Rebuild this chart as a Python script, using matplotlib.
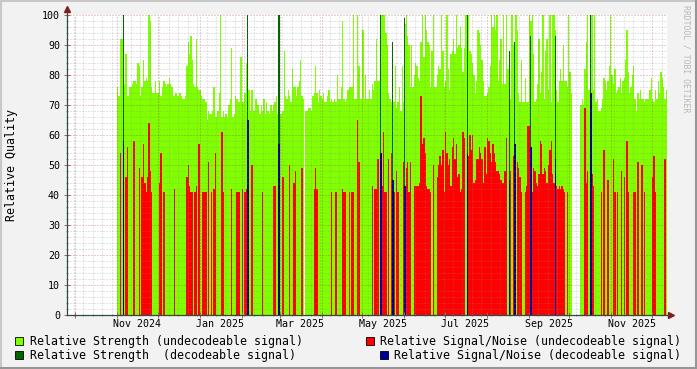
import numpy as np
import matplotlib
matplotlib.use('Agg')
import matplotlib.pyplot as plt
import matplotlib.dates as mdates
from matplotlib.patches import Rectangle
from matplotlib.lines import Line2D
from matplotlib.ticker import MultipleLocator, NullFormatter
from matplotlib.transforms import blended_transform_factory

W, H = 697, 369

first_day = '2024-11-01'
x_from = '2024-09-25'
x_to = '2025-12-12'

# one value per day from first_day, None = no data
green = [76, 73, 92, 92, 77, 77, 87, 73, 73, 76,
         76, 77, 78, 78, 77, 84, 83, 73, 76, 85,
         78, 79, 78, 100, 98, 76, 74, 74, 78, 74,
         74, 78, 73, 76, 78, 77, 76, 77, 79, 77,
         76, 73, 73, 74, 73, 73, 74, 73, 72, 72,
         73, 83, 91, 87, 93, 85, 77, 76, 92, 76,
         75, 75, 73, 72, 72, 71, 65, 68, 67, 67,
         68, 76, 66, 66, 68, 74, 100, 66, 68, 66,
         67, 66, 70, 72, 89, 66, 67, 73, 72, 71,
         71, 86, 71, 71, 74, 84, 89, 75, 68, 75,
         68, 68, 72, 70, 70, 67, 70, 68, 72, 67,
         71, 68, 67, 70, 68, 70, 71, 73, 67, 66,
         67, 67, 68, 88, 73, 72, 75, 73, 71, 82,
         76, 76, 73, 76, 78, 85, 73, 72, None, 68,
         68, 69, 69, 68, 73, 74, 83, 74, 71, 75,
         73, 72, 74, 71, 71, 73, 75, 71, 72, 71,
         72, 71, 80, 72, 72, 76, 98, 72, 71, 72,
         75, 76, 76, 76, 100, 72, 72, 100, 83, 72,
         72, 95, 72, 80, 72, 72, 75, 72, 77, 75,
         78, 92, 78, 78, 73, 100, 100, 100, 94, 90,
         74, 72, 71, 71, 71, 83, 69, 71, 76, 68,
         83, 71, 97, 100, 93, 90, 76, 90, 76, 80,
         84, 83, 79, 78, 91, 100, 86, 100, 95, 91,
         90, 76, 88, 100, 76, 76, 80, 83, 82, 100,
         88, 76, 78, 100, 82, 75, 87, 88, 92, 87,
         100, 89, 90, 96, 89, 81, 89, 100, 76, 100,
         88, 87, 84, 80, 74, 78, 95, 94, 90, 85,
         78, 73, 73, 74, 76, 83, 100, 96, 100, 95,
         100, 78, 85, 92, 77, 100, 77, 100, 82, 72,
         72, 100, 90, 72, 100, 95, 74, 71, 85, 71,
         71, 79, 71, 71, 100, 98, 100, 87, 71, 72,
         77, 92, 74, 81, 100, 72, 88, 92, 75, 100,
         71, 100, 100, 95, 75, 71, 78, 82, 78, 90,
         78, 78, 76, 100, 81, 74, None, None, None, None,
         None, None, 70, 72, 70, 82, 91, 100, 75, 72,
         100, 75, 100, 71, 72, 68, 68, 69, 72, 79,
         78, 75, 78, 83, 100, 80, 77, 82, 74, 75,
         76, 79, 74, 78, 79, 85, 95, 81, 74, 76,
         80, 83, 72, 68, 74, 72, 75, 72, 72, 71,
         72, 72, 72, 75, 79, 72, 71, 75, 72, 78,
         74, 81, 79, 76, 72, 75, 72]

red_day = [2, 6, 7, 12, 16, 18, 19, 20, 21, 22, 23, 24, 25, 31, 32, 34, 42,
           51, 52, 53, 54, 55, 57, 58, 60, 63, 64, 65, 67, 69, 71, 72, 77, 78,
           84, 88, 89, 90, 92, 94, 95, 96, 99, 107, 115, 116, 122, 127, 130, 131,
           136, 145, 146, 147, 158, 161, 166, 167, 168, 171, 173, 174, 177, 178,
           188, 190, 191, 192, 194, 195, 196, 197, 198, 200, 202, 203, 204, 206,
           207, 211, 213, 214, 215, 216, 219, 220, 221, 222, 223, 224, 225, 226,
           227, 228, 229, 230, 231, 233, 236, 237, 238, 239, 240, 241, 242, 243,
           244, 245, 246, 247, 248, 249, 250, 251, 252, 253, 254, 255, 256, 258,
           259, 260, 261, 262, 263, 264, 265, 266, 267, 268, 269, 270, 271, 272,
           273, 274, 275, 276, 277, 278, 279, 280, 281, 282, 283, 284, 285, 286,
           287, 290, 292, 293, 295, 296, 297, 298, 301, 302, 303, 304, 305, 306,
           307, 308, 309, 310, 311, 312, 313, 314, 315, 316, 317, 318, 319, 320,
           321, 322, 323, 324, 325, 326, 327, 328, 329, 330, 332,
           345, 346, 347, 350, 351, 357, 359, 362, 366, 367, 369, 372, 374, 376,
           377, 381, 382, 384, 387, 389, 395, 396, 397, 404, 406]
red_val = [54, 46, 56, 58, 49, 46, 57, 44, 41, 46, 64, 48, 41, 44, 54, 41, 42,
           46, 50, 43, 41, 41, 41, 43, 57, 41, 41, 41, 51, 41, 42, 54, 61, 41,
           42, 41, 41, 41, 42, 41, 42, 46, 50, 41, 43, 43, 46, 50, 44, 48,
           49, 42, 49, 42, 41, 41, 42, 41, 41, 41, 41, 41, 65, 51,
           43, 42, 42, 52, 43, 43, 61, 41, 41, 52, 54, 41, 41, 48,
           41, 51, 49, 51, 41, 51, 43, 43, 43, 43, 44, 73, 57, 59,
           54, 43, 42, 42, 41, 50, 46, 50, 53, 50, 55, 41, 61, 54,
           50, 52, 43, 56, 59, 52, 57, 46, 47, 41, 42, 61, 59, 43,
           53, 60, 55, 60, 44, 45, 52, 52, 56, 54, 52, 44, 56, 47,
           59, 58, 54, 51, 57, 54, 51, 48, 48, 47, 45, 44, 44, 48,
           59, 48, 53, 53, 51, 49, 46, 41, 41, 43, 63, 63, 41, 41,
           49, 48, 44, 43, 47, 58, 57, 47, 49, 48, 44, 50, 55, 58,
           47, 44, 44, 43, 42, 43, 42, 43, 42, 41, 41,
           69, 44, 48, 47, 43, 41, 55, 45, 52, 41, 41, 48, 46, 58,
           41, 41, 41, 51, 50, 41, 46, 53, 41, 52, 44]

dark_day = [4, 96, 119, 194, 203, 212, 258, 289, 293, 305, 323, 349]
dark_val = [100, 100, 100, 100, 91, 99, 100, 88, 91, 93, 93, 100]
blue_day = [4, 96, 119, 194, 203, 212, 258, 289, 293, 305, 323, 349]
blue_val = [58, 65, 57, 54, 45, 43, 54, 45, 57, 56, 52, 74]

month_labels = ['Nov 2024', 'Jan 2025', 'Mar 2025', 'May 2025',
                'Jul 2025', 'Sep 2025', 'Nov 2025']
label_dates = ['2024-11-16', '2025-01-16', '2025-03-16', '2025-05-16',
               '2025-07-16', '2025-09-16', '2025-11-16']

legend_text = ['Relative Strength (undecodeable signal)',
               'Relative Signal/Noise (undecodeable signal)',
               'Relative Strength  (decodeable signal)',
               'Relative Signal/Noise (decodeable signal)']

C_GREEN = '#80FF00'
C_RED = '#FF0000'
C_DARK = '#006600'
C_BLUE = '#000099'
C_AXIS = '#2C4D43'
C_ARROW = '#7F1F1F'
MONO = 'DejaVu Sans Mono'


def px(x, y):
    # pixel position -> figure fraction
    return x / W, 1 - y / H


fig = plt.figure(figsize=(W / 100, H / 100), dpi=100, facecolor='#F2F2F2')
ax = fig.add_axes([67 / W, 54 / H, 600 / W, 300 / H])
ax.set_facecolor('white')

base = mdates.datestr2num(first_day)
gx = [base + i for i, v in enumerate(green) if v is not None]
gv = [v for v in green if v is not None]
ax.bar(gx, gv, width=1.0, align='edge', color=C_GREEN, linewidth=0,
       antialiased=False, zorder=1)
ax.bar([base + d for d in red_day], red_val, width=1.0, align='edge',
       color=C_RED, linewidth=0, antialiased=False, zorder=1.1)
ax.bar([base + d for d in dark_day], dark_val, width=0.9, align='edge',
       color=C_DARK, linewidth=0, antialiased=False, zorder=1.2)
ax.bar([base + d for d in blue_day], blue_val, width=1.4, align='edge',
       color=C_BLUE, linewidth=0, antialiased=False, zorder=1.3)

ax.set_xlim(mdates.datestr2num(x_from), mdates.datestr2num(x_to))
ax.set_ylim(0, 100)

ax.xaxis.set_major_locator(mdates.MonthLocator())
ax.xaxis.set_minor_locator(mdates.WeekdayLocator(byweekday=mdates.MO))
ax.xaxis.set_major_formatter(NullFormatter())
ax.yaxis.set_major_locator(MultipleLocator(10))
ax.yaxis.set_minor_locator(MultipleLocator(2))

ax.set_axisbelow(False)
ax.grid(which='minor', color='#8C8C8C', alpha=0.45, lw=0.72, ls=(0, (1, 2)))
ax.grid(which='major', color='#A02020', alpha=0.45, lw=0.72, ls=(0, (1, 2)))

for s in ax.spines.values():
    s.set_visible(False)
ax.tick_params(axis='x', which='major', length=4, direction='inout',
               color='#B06060', width=0.72, labelbottom=False)
ax.tick_params(axis='x', which='minor', length=2, direction='inout',
               color='#999999', width=0.72)
ax.tick_params(axis='y', which='major', length=4, direction='inout',
               color='#B06060', width=0.72, labelsize=7.2, pad=3,
               labelfontfamily=MONO)
ax.tick_params(axis='y', which='minor', length=2, direction='inout',
               color='#999999', width=0.72)

tr = blended_transform_factory(ax.transData, ax.transAxes)
for lab, d in zip(month_labels, label_dates):
    ax.text(mdates.datestr2num(d), -9 / 300, lab, transform=tr, ha='center',
            va='center', fontsize=7.2, family=MONO)

# axes with arrows
fig.add_artist(Line2D([67 / W, 67 / W], [px(0, 315)[1], px(0, 11)[1]],
                      color=C_AXIS, lw=0.9))
fig.add_artist(Line2D([67 / W, 670 / W], [px(0, 315)[1], px(0, 315)[1]],
                      color=C_AXIS, lw=0.9))
fig.add_artist(Line2D([px(67, 9)[0]], [px(67, 9)[1]], marker='^', ms=4.5,
                      color=C_ARROW, mec=C_ARROW, ls='none'))
fig.add_artist(Line2D([px(671, 315)[0]], [px(671, 315)[1]], marker='>',
                      ms=4.5, color=C_ARROW, mec=C_ARROW, ls='none'))

fig.text(*px(12, 165), 'Relative Quality', rotation=90, ha='center',
         va='center', fontsize=8.4, family=MONO)
fig.text(*px(686, 5), 'RRDTOOL / TOBI OETIKER', rotation=270, ha='center',
         va='top', fontsize=5.9, family=MONO, color='#B8B8B8')

# legend
legend_colors = [C_GREEN, C_RED, C_DARK, C_BLUE]
legend_pos = [(15, 341, 'left'), (366, 341, 'right'),
              (15, 355, 'left'), (380, 355, 'right')]
for txt, col, (bx, by, side) in zip(legend_text, legend_colors, legend_pos):
    x0, y0 = px(bx, by + 4)
    fig.add_artist(Rectangle((x0, y0), 8 / W, 8 / H, facecolor=col,
                             edgecolor='black', lw=0.6,
                             transform=fig.transFigure))
    if side == 'left':
        fig.text(*px(30, by), txt, ha='left', va='center', fontsize=8.4,
                 family=MONO)
    else:
        fig.text(*px(681, by), txt, ha='right', va='center', fontsize=8.4,
                 family=MONO)

# 3d frame
fig.add_artist(Line2D([0, 1], [1 - 1 / H, 1 - 1 / H], color='#C8C8C8', lw=1.5))
fig.add_artist(Line2D([1 / W, 1 / W], [0, 1], color='#C8C8C8', lw=1.5))
fig.add_artist(Line2D([0, 1], [1 / H, 1 / H], color='#969696', lw=1.5))
fig.add_artist(Line2D([1 - 1 / W, 1 - 1 / W], [0, 1], color='#969696', lw=1.5))

fig.savefig('out.png', dpi=100, facecolor=fig.get_facecolor())
